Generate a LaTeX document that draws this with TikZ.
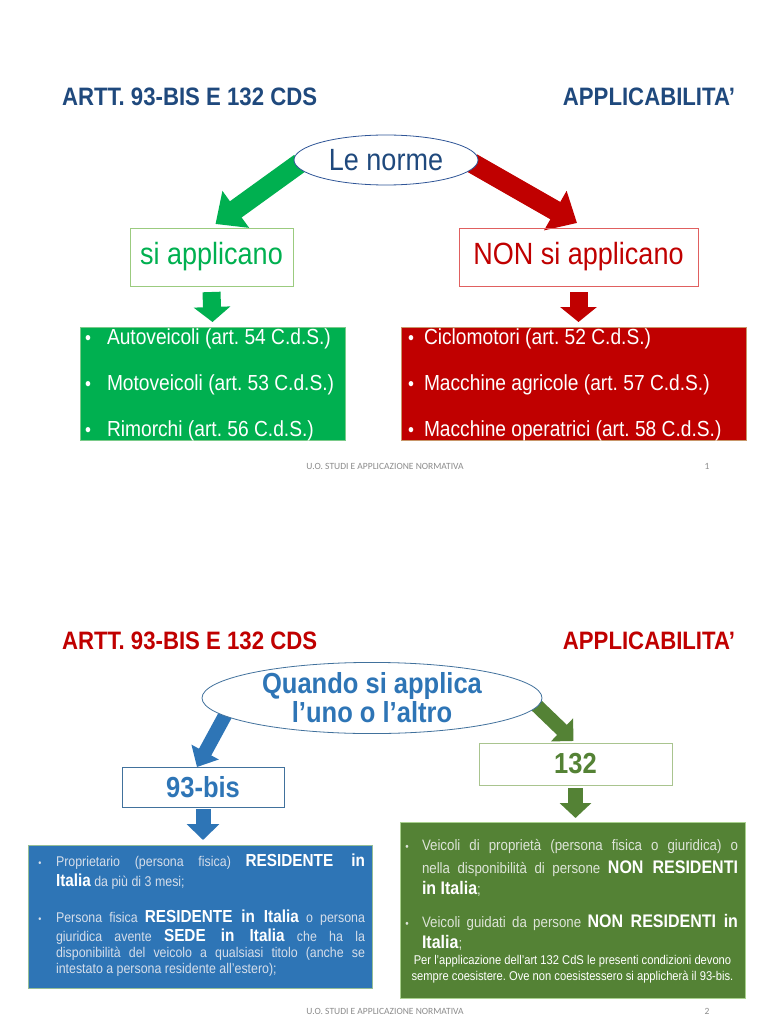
\documentclass[tikz,border=0pt]{standalone}
\usepackage{fontspec}
\setmainfont[FakeStretch=0.88]{Liberation Sans}
\newfontfamily\footfont{Carlito}
\usetikzlibrary{arrows.meta,shapes.geometric,calc}
\definecolor{tblue}{HTML}{1F497D}
\definecolor{cgreen}{HTML}{00B050}
\definecolor{cred}{HTML}{C00000}
\definecolor{bblue}{HTML}{2E75B6}
\definecolor{dgreen}{HTML}{548235}
\definecolor{footgray}{HTML}{8C8C8C}
\definecolor{ellblue}{HTML}{2F5597}
\definecolor{ell2}{HTML}{41719C}
\definecolor{palegreen}{HTML}{9BCB7F}
\definecolor{palered}{HTML}{E06060}
\definecolor{pale132}{HTML}{A9C48F}
\definecolor{lgborder}{HTML}{7ACB8A}
\definecolor{rlborder}{HTML}{C8966A}
\definecolor{bbborder}{HTML}{96BE96}
\definecolor{gbborder}{HTML}{A9D18E}
\definecolor{bbtext}{HTML}{D6DEEA}
\definecolor{gbtext}{HTML}{DDE4D8}
\newcommand{\sz}[1]{\fontsize{#1}{#1}\selectfont}
\pgfdeclarelayer{back}
\pgfdeclarelayer{bg}
\pgfsetlayers{back,bg,main}
\frenchspacing
\begin{document}
\frenchspacing
\begin{tikzpicture}[x=1pt,y=-1pt,
  every node/.style={inner sep=0pt, outer sep=0pt},
  titletext/.style={font=\sz{25.2}\bfseries},
  fat/.style n args={4}{draw=#1, line width=#2, -{Triangle[width=#3,length=#4]}},
  listtext/.style={font=\sz{21.8}, text=white, anchor=base west},
  bul/.style={font=\sz{19.2}, text=white, anchor=base},
  foot/.style={font=\footfont\sz{9.5}, text=footgray}]
\begin{pgfonlayer}{back}
\useasboundingbox (0,0) rectangle (768,1024);
\fill[white] (0,0) rectangle (768,1024);
\end{pgfonlayer}

% ---------------- slide 1 ----------------
\node[titletext, text=tblue, anchor=base west] (t1l) at (62,106) {ARTT. 93-BIS E 132 CDS};
\node[titletext, text=tblue, anchor=base east] (t1r) at (735,106) {APPLICABILITA’};

\node[ellipse, draw=ellblue, line width=0.8pt, fill=white, minimum width=184pt, minimum height=50pt, font=\sz{30.7}, text=tblue] (le) at (386,160) {Le norme};

\node[draw=palegreen, line width=0.8pt, minimum width=163pt, minimum height=58pt, font=\sz{30.7}, text=cgreen] (si) at (211.5,257) {si applicano};
\node[draw=palered, line width=0.8pt, minimum width=239pt, minimum height=58pt, font=\sz{30.7}, text=cred] (non) at (578.5,257) {NON si applicano};

\node[fill=cgreen, draw=lgborder, line width=0.6pt, minimum width=265pt, minimum height=113pt] (gl) at (212.5,383.5) {};
\node[fill=cred, draw=rlborder, line width=0.6pt, minimum width=345pt, minimum height=113pt] (rl) at (573.5,383.5) {};

\begin{pgfonlayer}{bg}
\draw[fat={cgreen}{20pt}{44pt}{25pt}] ($(le.west)+(6,3)$) -- ($(si.north)+(4,-4)$);
\draw[fat={cred}{20pt}{44pt}{25pt}] ($(le.east)+(-6,3)$) -- ($(non.north)+(-1.5,-5)$);
\end{pgfonlayer}
\draw[fat={cgreen}{18pt}{36pt}{15pt}] ($(si.south)+(0,6)$) -- ($(gl.north)+(0,-5)$);
\draw[fat={cred}{18pt}{36pt}{15pt}] ($(non.south)+(0,6)$) -- ($(non.south)+(0,36)$);

\node[bul] (gb1) at (88,344) {•};
\node[bul] (gb2) at (88,390) {•};
\node[bul] (gb3) at (88,436) {•};
\node[listtext] (g1) at (107,344) {Autoveicoli (art. 54 C.d.S.)};
\node[listtext] (g2) at (107,390) {Motoveicoli (art. 53 C.d.S.)};
\node[listtext] (g3) at (107,436) {Rimorchi (art. 56 C.d.S.)};

\node[bul] (rb1) at (411,344) {•};
\node[bul] (rb2) at (411,390) {•};
\node[bul] (rb3) at (411,436) {•};
\node[listtext] (r1) at (424,344) {Ciclomotori (art. 52 C.d.S.)};
\node[listtext] (r2) at (424,390) {Macchine agricole (art. 57 C.d.S.)};
\node[listtext] (r3) at (424,436) {Macchine operatrici (art. 58 C.d.S.)};

\node[foot] (f1) at (385,466) {U.O. STUDI E APPLICAZIONE NORMATIVA};
\node[foot] (p1) at (707,466) {1};

% ---------------- slide 2 ----------------
\node[titletext, text=cred, anchor=base west] (t2l) at (62,649) {ARTT. 93-BIS E 132 CDS};
\node[titletext, text=cred, anchor=base east] (t2r) at (735,649) {APPLICABILITA’};

\node[ellipse, draw=ell2, line width=0.8pt, fill=white, minimum width=340pt, minimum height=70pt, font=\sz{29}\bfseries, text=bblue, align=center] (q) at (372,698) {Quando si applica\\l’uno o l’altro};

\node[draw=ell2, line width=0.9pt, minimum width=162pt, minimum height=40pt, font=\sz{29}\bfseries, text=bblue] (b93) at (203,787) {93-bis};
\node[draw=pale132, line width=0.9pt, minimum width=193pt, minimum height=42pt, font=\sz{29}\bfseries, text=dgreen] (n132) at (575.5,764) {132};

\begin{pgfonlayer}{bg}
\draw[fat={bblue}{14pt}{30pt}{17pt}] ($(q.west)+(26,12)$) -- ($(b93.north)+(-6,0)$);
\draw[fat={dgreen}{14pt}{31pt}{16pt}] ($(q.east)+(-8,5)$) -- ($(n132.north)+(-2,-2)$);
\end{pgfonlayer}
\draw[fat={bblue}{15pt}{32pt}{16pt}] ($(b93.south)+(0,2)$) -- ($(b93.south)+(0,33)$);
\draw[fat={dgreen}{15pt}{31pt}{15pt}] ($(n132.south)+(0,3)$) -- ($(n132.south)+(0,33)$);

\node[fill=bblue, draw=bbborder, line width=0.8pt, minimum width=344pt, minimum height=143pt] (bb) at (200,916.5) {};
\node[fill=dgreen, draw=gbborder, line width=0.8pt, minimum width=345pt, minimum height=176pt] (gb) at (572.5,910) {};

% blue box text
\node[font=\sz{10}, text=bbtext, anchor=base] (bbu1) at (40,866) {•};
\node[font=\sz{10}, text=bbtext, anchor=base] (bbu2) at (40,922) {•};
\node[anchor=base west, font=\sz{14.1}, text=bbtext] (bl1) at (56,866) {\makebox[309pt][s]{Proprietario (persona fisica) {\sz{17.4}\bfseries\color{white}RESIDENTE in}}};
\node[anchor=base west, font=\sz{14.1}, text=bbtext] (bl2) at (56,886) {{\sz{17.4}\bfseries\color{white}Italia} da più di 3 mesi;};
\node[anchor=base west, font=\sz{14.1}, text=bbtext] (bl3) at (56,922) {\makebox[309pt][s]{Persona fisica {\sz{17.4}\bfseries\color{white}RESIDENTE in Italia} o persona}};
\node[anchor=base west, font=\sz{14.1}, text=bbtext] (bl4) at (56,941) {\makebox[309pt][s]{giuridica avente {\sz{17.4}\bfseries\color{white}SEDE in Italia} che ha la}};
\node[anchor=base west, font=\sz{14.1}, text=bbtext] (bl5) at (56,957) {\makebox[309pt][s]{disponibilità del veicolo a qualsiasi titolo (anche se}};
\node[anchor=base west, font=\sz{14.1}, text=bbtext] (bl6) at (56,973) {intestato a persona residente all'estero);};

% green box text
\node[font=\sz{11}, text=gbtext, anchor=base] (gbu1) at (407,850) {•};
\node[font=\sz{11}, text=gbtext, anchor=base] (gbu2) at (407,927) {•};
\node[anchor=base west, font=\sz{15.1}, text=gbtext] (gl1) at (422,850) {\makebox[316pt][s]{Veicoli di proprietà (persona fisica o giuridica) o}};
\node[anchor=base west, font=\sz{15.1}, text=gbtext] (gl2) at (422,873) {\makebox[316pt][s]{nella disponibilità di persone {\sz{18.2}\bfseries\color{white}NON RESIDENTI}}};
\node[anchor=base west, font=\sz{15.1}, text=gbtext] (gl3) at (422,894) {{\sz{18.2}\bfseries\color{white}in Italia};};
\node[anchor=base west, font=\sz{15.1}, text=gbtext] (gl4) at (422,927) {\makebox[316pt][s]{Veicoli guidati da persone {\sz{18.2}\bfseries\color{white}NON RESIDENTI in}}};
\node[anchor=base west, font=\sz{15.1}, text=gbtext] (gl5) at (422,948) {{\sz{18.2}\bfseries\color{white}Italia};};
\node[anchor=base, font=\sz{12.7}, text=white] (gn1) at (572.5,964) {Per l'applicazione dell'art 132 CdS le presenti condizioni devono};
\node[anchor=base, font=\sz{12.7}, text=white] (gn2) at (572.5,980) {sempre coesistere. Ove non coesistessero si applicherà il 93-bis.};

\node[foot] (f2) at (385,1011) {U.O. STUDI E APPLICAZIONE NORMATIVA};
\node[foot] (p2) at (707,1011) {2};
\end{tikzpicture}
\end{document}
